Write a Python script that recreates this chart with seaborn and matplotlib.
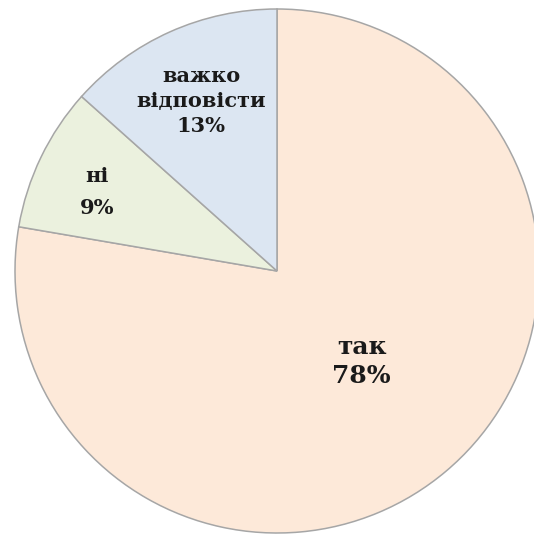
import matplotlib
matplotlib.use('Agg')
import matplotlib.pyplot as plt
import seaborn as sns
import numpy as np

# Survey answers (clockwise from the top)
labels = ['так', 'ні', 'важко\nвідповісти']
shares = [77.7, 8.9, 13.4]
colors = ['#FDE9D9', '#EBF1DE', '#DCE6F2']

# label styling per slice
label_sizes = [18, 15, 15]
label_dist = [0.473, 0.75, 0.71]
label_shift = [3, 2, 0]          # degrees, nudges along the arc
label_spacing = [1.25, 1.75, 1.3]

sns.set_theme(style='white')
plt.rcParams['font.family'] = ['DejaVu Serif']

fig = plt.figure(figsize=(5.34, 5.39), dpi=100)
ax = fig.add_axes([0, 0, 1, 1])

wedges, _ = ax.pie(shares, colors=sns.color_palette(colors), startangle=90,
                   counterclock=False, radius=1.0,
                   wedgeprops=dict(edgecolor='#A6A6A6', linewidth=1.1))

# put the text in each slice along its middle angle
for w, lab, val, sz, d, sh, ls in zip(wedges, labels, shares, label_sizes,
                                      label_dist, label_shift, label_spacing):
    ang = np.deg2rad((w.theta1 + w.theta2) / 2 + sh)
    ax.text(d * np.cos(ang), d * np.sin(ang), f'{lab}\n{val:.0f}%',
            ha='center', va='center', fontsize=sz, fontweight='bold',
            color='#1A1A1A', linespacing=ls)

# pie centre sits at (277, 271) px with radius 262 px
r_px = 262
ax.set_xlim(-277 / r_px, (534 - 277) / r_px)
ax.set_ylim(-(539 - 271) / r_px, 271 / r_px)
ax.set_aspect('auto')
ax.axis('off')

plt.savefig('out.png', dpi=100)
